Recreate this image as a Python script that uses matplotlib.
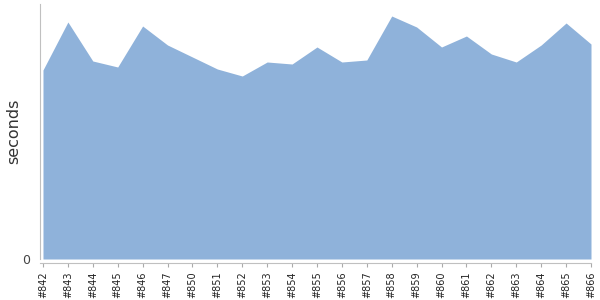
import numpy as np
import matplotlib
matplotlib.use("Agg")
import matplotlib.pyplot as plt

# build ids (x labels) and build time
builds = ["#842", "#843", "#844", "#845", "#846", "#847", "#850", "#851",
          "#852", "#853", "#854", "#855", "#856", "#857", "#858", "#859",
          "#860", "#861", "#862", "#863", "#864", "#865", "#866"]
seconds = [189, 237, 198, 192, 233, 214, 202, 190, 183, 197, 195, 212,
           197, 199, 243, 232, 212, 223, 205, 197, 214, 236, 215]
y_ticks = [0]

fig = plt.figure(figsize=(6, 3), dpi=100)
ax = fig.add_axes([40 / 600, 41 / 300, 551 / 600, 255 / 300])

x = np.arange(len(builds))
ax.fill_between(x, 0, seconds, color="#8fb2da", linewidth=0)

ax.set_xlim(-0.12, len(builds) - 1)
ax.set_ylim(0, 255)
ax.set_xticks(x, builds)
ax.set_yticks(y_ticks, [str(v) for v in y_ticks])
ax.tick_params(axis="x", length=3, color="#aaaaaa", pad=3,
               labelrotation=90, labelsize=7, labelcolor="#222222")
ax.tick_params(axis="y", length=0, pad=7, labelsize=9, labelcolor="#444444")

for s in ["top", "right"]:
    ax.spines[s].set_visible(False)
ax.spines["left"].set_color("#c0c0c0")
ax.spines["bottom"].set_color("#c0c0c0")
ax.spines["bottom"].set_position(("outward", 3))

ax.set_ylabel("seconds", fontsize=11.5, color="#333333")
ax.yaxis.set_label_coords(-19 / 551, 0.5)

fig.savefig("out.png", dpi=100)
